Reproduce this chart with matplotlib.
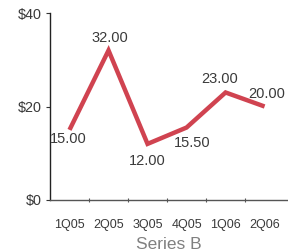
import matplotlib
matplotlib.use('Agg')
import matplotlib.pyplot as plt
import numpy as np

plt.rcParams['font.family'] = ['Liberation Sans', 'DejaVu Sans']

quarters = ['1Q05', '2Q05', '3Q05', '4Q05', '1Q06', '2Q06']
values = [15.0, 32.0, 12.0, 15.5, 23.0, 20.0]
y_ticks = [0, 20, 40]
y_labels = ['$0', '$20', '$40']

# label offsets from the point, in pixels (dx, dy)
label_offsets = [(-1, -9), (1.5, 12), (0, -17), (6, -15.5), (-6, 13.5), (2, 12.5)]

text_col = '#3a3a3a'
line_col = '#D04350'

fig = plt.figure(figsize=(2.88, 2.52), dpi=100)
ax = fig.add_axes([50 / 288, 52 / 252, 238 / 288, 187 / 252])

x = np.arange(len(quarters))
ax.plot(x, values, color=line_col, linewidth=3.2, solid_joinstyle='miter',
        solid_capstyle='butt')

for xi, v, (dx, dy) in zip(x, values, label_offsets):
    ax.annotate('%.2f' % v, (xi, v), xytext=(dx * 0.72, dy * 0.72),
                textcoords='offset points', ha='center', va='center',
                fontsize=10.5, color=text_col)

ax.set_xlim(-0.5, len(quarters) - 0.4)
ax.set_ylim(0, 40)

ax.set_yticks(y_ticks)
ax.set_yticklabels(y_labels)
ax.set_xticks(x)
ax.set_xticklabels(quarters)
ax.set_xticks(np.arange(len(quarters) - 1) + 0.5, minor=True)

ax.tick_params(axis='y', length=3, width=0.8, colors='#333333', labelsize=10.4,
               labelcolor=text_col, pad=3)
ax.tick_params(axis='x', which='major', length=0, labelsize=9,
               labelcolor=text_col, pad=14)
ax.tick_params(axis='x', which='minor', length=2.5, width=0.8, color='#555555',
               direction='inout')

for side in ['top', 'right']:
    ax.spines[side].set_visible(False)
ax.spines['left'].set_color('#222222')
ax.spines['bottom'].set_color('#555555')
ax.spines['left'].set_linewidth(1.0)
ax.spines['bottom'].set_linewidth(1.0)

ax.set_xlabel('Series B', fontsize=12.5, color='#808080', labelpad=4)

fig.savefig('out.png', dpi=100)
